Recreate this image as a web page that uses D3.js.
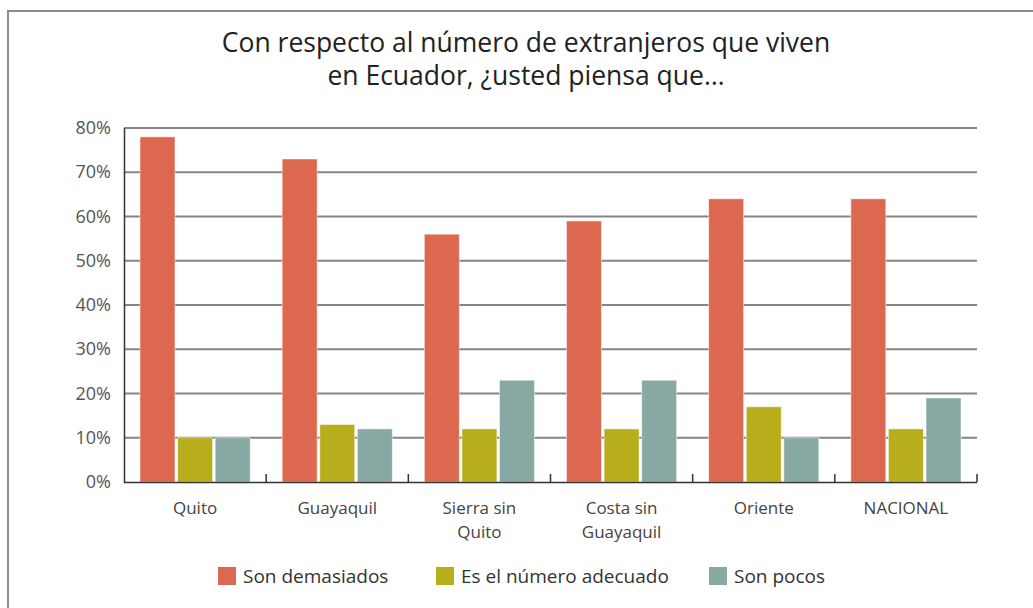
<!DOCTYPE html>
<html>
<head>
<meta charset="utf-8">
<script src="https://cdn.jsdelivr.net/npm/d3@7"></script>
<style>
  body { margin: 0; background: #fff; }
  svg { display: block; font-family: "Open Sans", "Noto Sans", sans-serif; }
</style>
</head>
<body>
<svg id="chart" width="1033" height="608"></svg>
<script>
const categories = ['Quito', 'Guayaquil', 'Sierra sin Quito', 'Costa sin Guayaquil', 'Oriente', 'NACIONAL'];
const categoryLines = [['Quito'], ['Guayaquil'], ['Sierra sin', 'Quito'], ['Costa sin', 'Guayaquil'], ['Oriente'], ['NACIONAL']];
const seriesNames = ['Son demasiados', 'Es el número adecuado', 'Son pocos'];
const seriesColors = ['#dc6850', '#b8ae1c', '#88a8a4'];
const demasiados = [78, 73, 56, 59, 64, 64];
const adecuado = [10, 13, 12, 12, 17, 12];
const pocos = [10, 12, 23, 23, 10, 19];
const yTicks = [0, 10, 20, 30, 40, 50, 60, 70, 80];
const titleLines = ['Con respecto al número de extranjeros que viven', 'en Ecuador, ¿usted piensa que…'];

const seriesValues = [demasiados, adecuado, pocos];
const width = 1033, height = 608;
const margin = { left: 124, right: 56, top: 128, bottom: 126 };

const svg = d3.select('#chart');

// outer frame (open on right/bottom, like the cropped figure box)
svg.append('path')
  .attr('d', `M8,${height} V11 H${width}`)
  .attr('fill', 'none')
  .attr('stroke', '#8c8c8c')
  .attr('stroke-width', 2);

// title
svg.append('text')
  .attr('y', 52)
  .attr('text-anchor', 'middle')
  .attr('fill', '#222')
  .style('font-size', '26.5px')
  .selectAll('tspan')
  .data(titleLines)
  .join('tspan')
  .attr('x', 526)
  .attr('dy', (d, i) => i === 0 ? 0 : 33)
  .text(d => d);

const x = d3.scaleBand()
  .domain(categories)
  .range([margin.left, width - margin.right])
  .paddingInner(0)
  .paddingOuter(0);

const xInner = d3.scaleBand()
  .domain(seriesNames)
  .range([16, x.bandwidth() - 16])
  .paddingInner(0.07)
  .paddingOuter(0);

const y = d3.scaleLinear()
  .domain([0, 80])
  .range([height - margin.bottom, margin.top]);

// gridlines
svg.append('g')
  .selectAll('line')
  .data(yTicks.filter(d => d > 0))
  .join('line')
  .attr('x1', margin.left)
  .attr('x2', width - margin.right)
  .attr('y1', d => y(d))
  .attr('y2', d => y(d))
  .attr('stroke', '#858585')
  .attr('stroke-width', 2);

// y tick labels
svg.append('g')
  .selectAll('text')
  .data(yTicks)
  .join('text')
  .attr('x', 111)
  .attr('y', d => y(d) + 6)
  .attr('text-anchor', 'end')
  .attr('fill', '#555')
  .style('font-size', '18px')
  .text(d => d + '%');

// bars
const groups = svg.append('g')
  .selectAll('g')
  .data(categories)
  .join('g')
  .attr('transform', d => `translate(${x(d)},0)`);

groups.selectAll('rect')
  .data((d, i) => seriesNames.map((s, j) => ({ series: s, value: seriesValues[j][i], color: seriesColors[j] })))
  .join('rect')
  .attr('x', d => xInner(d.series))
  .attr('width', xInner.bandwidth())
  .attr('y', d => y(d.value))
  .attr('height', d => y(0) - y(d.value))
  .attr('fill', d => d.color)
  .attr('stroke', 'rgba(255,255,255,0.5)')
  .attr('stroke-width', 1);

// axes lines
svg.append('line')
  .attr('x1', margin.left + 0.5).attr('x2', margin.left + 0.5)
  .attr('y1', y(80)).attr('y2', y(0) + 1)
  .attr('stroke', '#333').attr('stroke-width', 1.5);

svg.append('line')
  .attr('x1', margin.left).attr('x2', width - margin.right)
  .attr('y1', y(0) + 0.5).attr('y2', y(0) + 0.5)
  .attr('stroke', '#333').attr('stroke-width', 1.5);

// category boundary ticks (pointing up)
svg.append('g')
  .selectAll('line')
  .data(categories)
  .join('line')
  .attr('x1', d => x(d) + x.bandwidth())
  .attr('x2', d => x(d) + x.bandwidth())
  .attr('y1', y(0) - 8)
  .attr('y2', y(0))
  .attr('stroke', '#333')
  .attr('stroke-width', 1.5);

// category labels
svg.append('g')
  .selectAll('text')
  .data(categories)
  .join('text')
  .attr('y', y(0) + 32)
  .attr('text-anchor', 'middle')
  .attr('fill', '#444')
  .style('font-size', '17px')
  .selectAll('tspan')
  .data((d, i) => categoryLines[i].map(line => ({ line, cat: d })))
  .join('tspan')
  .attr('x', d => x(d.cat) + x.bandwidth() / 2)
  .attr('dy', (d, i) => i === 0 ? 0 : 24)
  .text(d => d.line);

// legend
const legendX = [218, 436, 709];
const legend = svg.append('g')
  .selectAll('g')
  .data(seriesNames)
  .join('g')
  .attr('transform', (d, i) => `translate(${legendX[i]},567)`);

legend.append('rect')
  .attr('width', 18)
  .attr('height', 18)
  .attr('fill', (d, i) => seriesColors[i]);

legend.append('text')
  .attr('x', 25)
  .attr('y', 16)
  .attr('fill', '#333')
  .style('font-size', '19px')
  .text(d => d);
</script>
</body>
</html>
